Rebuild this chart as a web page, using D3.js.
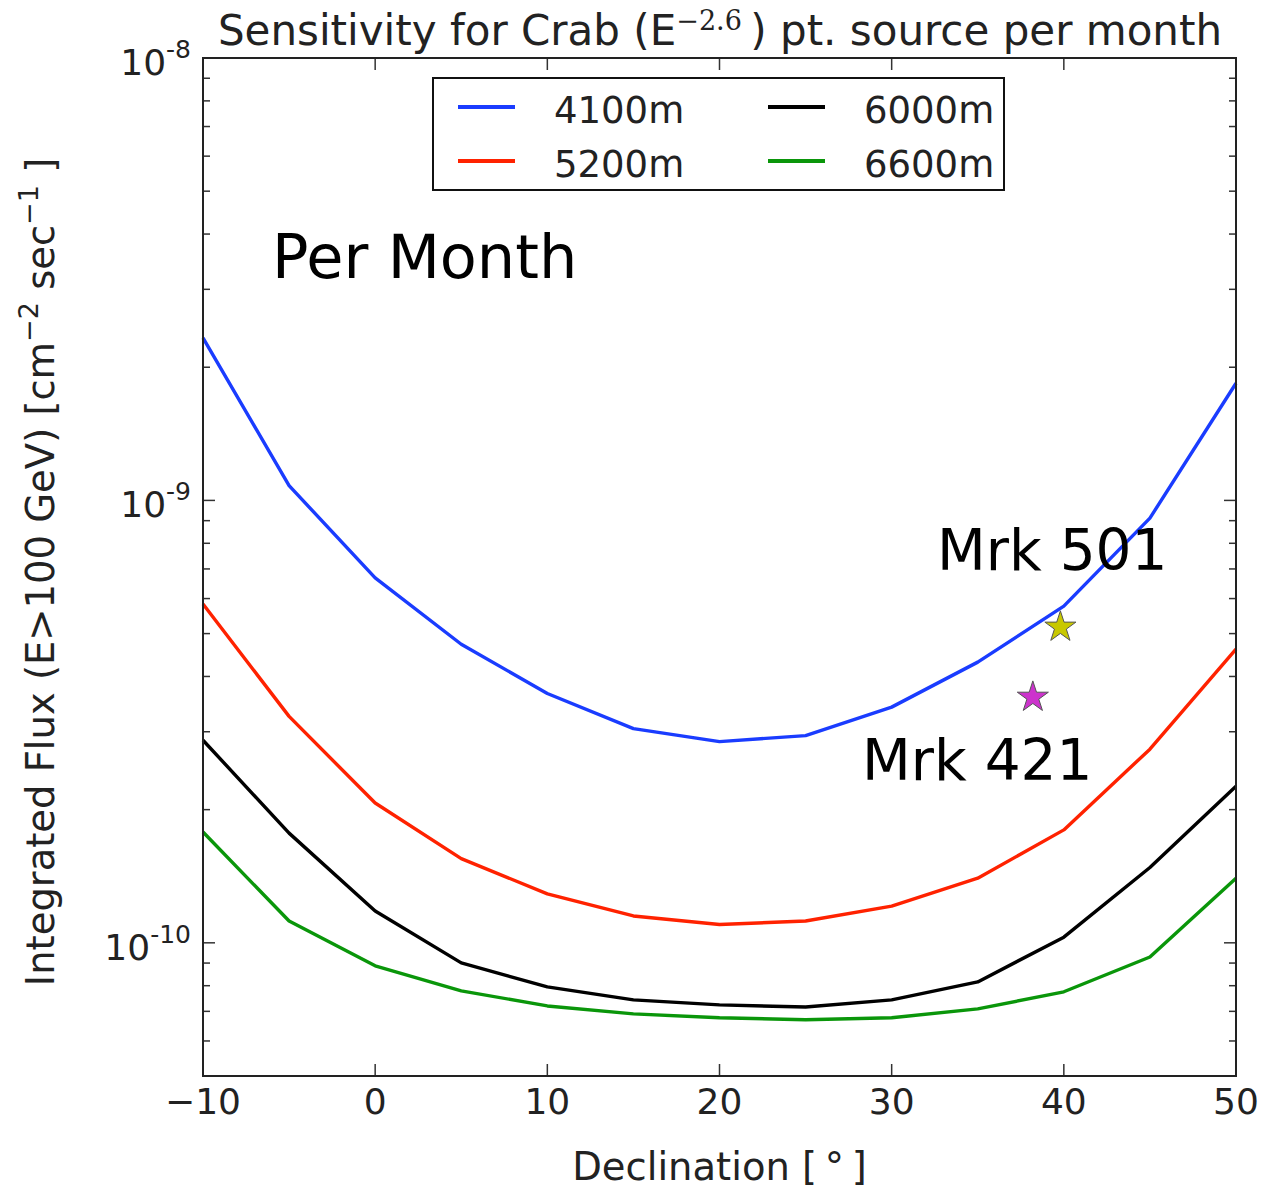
<!DOCTYPE html>
<html><head><meta charset="utf-8">
<script src="https://cdn.jsdelivr.net/npm/d3@7"></script>
<style>body{margin:0;background:#fff} text{font-family:"DejaVu Sans",sans-serif}</style>
</head><body><svg id="c" width="1262" height="1190"></svg>
<script>
// ---- data ----
const declination = [-10, -5, 0, 5, 10, 15, 20, 25, 30, 35, 40, 45, 50];
const flux4100 = [2.33e-9, 1.08e-9, 6.68e-10, 4.73e-10, 3.66e-10, 3.05e-10, 2.85e-10, 2.94e-10, 3.41e-10, 4.31e-10, 5.77e-10, 9.12e-10, 1.84e-9];
const flux5200 = [5.83e-10, 3.25e-10, 2.07e-10, 1.55e-10, 1.29e-10, 1.15e-10, 1.10e-10, 1.12e-10, 1.21e-10, 1.40e-10, 1.80e-10, 2.74e-10, 4.61e-10];
const flux6000 = [2.87e-10, 1.77e-10, 1.18e-10, 9.01e-11, 7.95e-11, 7.43e-11, 7.24e-11, 7.16e-11, 7.43e-11, 8.16e-11, 1.03e-10, 1.48e-10, 2.26e-10];
const flux6600 = [1.78e-10, 1.12e-10, 8.87e-11, 7.79e-11, 7.20e-11, 6.91e-11, 6.77e-11, 6.70e-11, 6.77e-11, 7.09e-11, 7.75e-11, 9.29e-11, 1.40e-10];
const seriesNames = ["4100m", "5200m", "6000m", "6600m"];
const seriesColors = ["#1a3cff", "#ff2200", "#000000", "#0a960a"];
const sourceNames = ["Mrk 501", "Mrk 421"];
const sourceDec = [39.8, 38.2];
const sourceFlux = [5.17e-10, 3.59e-10];
const sourceColors = ["#c8c800", "#cc33cc"];
const xTicks = [-10, 0, 10, 20, 30, 40, 50];
const yMajorExp = [-8, -9, -10];

const allSeries = [flux4100, flux5200, flux6000, flux6600];

// ---- layout ----
const svg = d3.select("#c");
const L = 203, R = 1236, T = 58, B = 1076;
const x = d3.scaleLinear().domain([-10, 50]).range([L, R]);
const y = d3.scaleLog().domain([5e-11, 1e-8]).range([B, T]);
const axisCol = "#222";

// lines
const line = d3.line().x((d, i) => x(declination[i])).y(d => y(d));
allSeries.forEach((s, k) => {
  svg.append("path").datum(s).attr("d", line)
    .attr("fill", "none").attr("stroke", seriesColors[k]).attr("stroke-width", 3.4)
    .attr("stroke-linejoin", "round");
});

// ticks (inward, all four sides)
const ticksG = svg.append("g").attr("stroke", "#333").attr("stroke-width", 1.5);
xTicks.forEach(v => {
  ticksG.append("line").attr("x1", x(v)).attr("x2", x(v)).attr("y1", B).attr("y2", B - 12);
  ticksG.append("line").attr("x1", x(v)).attr("x2", x(v)).attr("y1", T).attr("y2", T + 12);
});
const minorVals = [];
[-11, -10, -9].forEach(e => { for (let m = 2; m <= 9; m++) { const v = m * Math.pow(10, e); if (v >= 5e-11 && v < 1e-8) minorVals.push(v); } });
minorVals.forEach(v => {
  ticksG.append("line").attr("x1", L).attr("x2", L + 7).attr("y1", y(v)).attr("y2", y(v));
  ticksG.append("line").attr("x1", R).attr("x2", R - 7).attr("y1", y(v)).attr("y2", y(v));
});
yMajorExp.forEach(e => {
  const v = Math.pow(10, e);
  ticksG.append("line").attr("x1", L).attr("x2", L + 12).attr("y1", y(v)).attr("y2", y(v));
  ticksG.append("line").attr("x1", R).attr("x2", R - 12).attr("y1", y(v)).attr("y2", y(v));
});

// frame
svg.append("rect").attr("x", L).attr("y", T).attr("width", R - L).attr("height", B - T)
  .attr("fill", "none").attr("stroke", "#222").attr("stroke-width", 2);

// x tick labels
xTicks.forEach(v => {
  svg.append("text").attr("x", x(v)).attr("y", B + 38).attr("text-anchor", "middle")
    .attr("font-size", 36).attr("fill", axisCol)
    .text(v < 0 ? "\u2212" + Math.abs(v) : String(v));
});
// y tick labels
yMajorExp.forEach(e => {
  const t = svg.append("text").attr("x", 191).attr("y", y(Math.pow(10, e)) + 17)
    .attr("text-anchor", "end").attr("fill", axisCol).attr("font-size", 36);
  t.append("tspan").text("10");
  t.append("tspan").attr("font-size", 25).attr("dy", -17).text(String(e));
});

// axis labels
svg.append("text").attr("x", (L + R) / 2).attr("y", 1180).attr("text-anchor", "middle")
  .attr("font-size", 38.5).attr("fill", axisCol).text("Declination [\u2009\u00b0\u2009]");
const yl = svg.append("text").attr("transform", `translate(54,572) rotate(-90)`)
  .attr("text-anchor", "middle").attr("font-size", 38.5).attr("fill", axisCol);
yl.append("tspan").text("Integrated Flux (E>100 GeV) [cm");
yl.append("tspan").attr("font-size", 27).attr("dy", -16).text("\u22122");
yl.append("tspan").attr("dy", 16).text(" sec");
yl.append("tspan").attr("font-size", 27).attr("dy", -16).text("\u22121");
yl.append("tspan").attr("dy", 16).text(" ]");

// title
const tt = svg.append("text").attr("x", 720).attr("y", 45).attr("text-anchor", "middle")
  .attr("font-size", 42).attr("fill", axisCol);
tt.append("tspan").text("Sensitivity for Crab (E");
tt.append("tspan").attr("font-size", 27).attr("dy", -15).attr("font-family", "DejaVu Serif").text("\u22122.6");
tt.append("tspan").attr("dy", 15).text("\u2009) pt. source per month");

// legend
svg.append("rect").attr("x", 433).attr("y", 78).attr("width", 571).attr("height", 112)
  .attr("fill", "#fff").attr("stroke", "#111").attr("stroke-width", 2);
const legPos = [[458, 107], [458, 161], [768, 107], [768, 161]];
seriesNames.forEach((n, k) => {
  const [lx, ly] = legPos[k];
  svg.append("line").attr("x1", lx).attr("x2", lx + 57).attr("y1", ly).attr("y2", ly)
    .attr("stroke", seriesColors[k]).attr("stroke-width", 4);
  svg.append("text").attr("x", lx + 96).attr("y", ly + 16).attr("font-size", 37)
    .attr("fill", "#222").text(n);
});

// annotations
svg.append("text").attr("x", 272).attr("y", 278).attr("font-size", 60.5).attr("fill", "#000").text("Per Month");
svg.append("text").attr("x", 937).attr("y", 570).attr("font-size", 56.5).attr("fill", "#000").text(sourceNames[0]);
svg.append("text").attr("x", 862).attr("y", 780).attr("font-size", 56.5).attr("fill", "#000").text(sourceNames[1]);

// stars
const star = d3.symbol().type(d3.symbolStar).size(300);
sourceNames.forEach((n, k) => {
  svg.append("path").attr("d", star)
    .attr("transform", `translate(${x(sourceDec[k])},${y(sourceFlux[k])})`)
    .attr("fill", sourceColors[k]).attr("stroke", "#555").attr("stroke-width", 1);
});
</script></body></html>
